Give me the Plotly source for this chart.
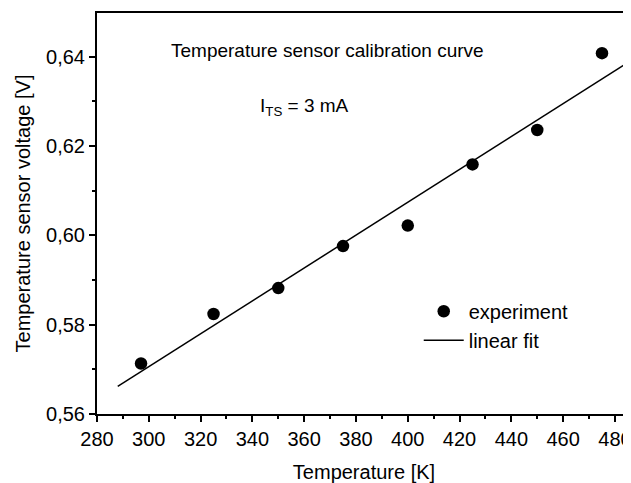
import plotly.graph_objects as go

temperature_K = [297, 325, 350, 375, 400, 425, 450, 475]
voltage_V = [0.5713, 0.5824, 0.5882, 0.5976, 0.6022, 0.6159, 0.6236, 0.6408]
fit_T = [288, 484.2]
fit_V = [0.5662, 0.6384]
x_ticks = [280, 300, 320, 340, 360, 380, 400, 420, 440, 460, 480]
y_ticks = [0.56, 0.58, 0.60, 0.62, 0.64]

FONT = "Liberation Sans, Arial, sans-serif"

fig = go.Figure()
fig.add_trace(go.Scatter(x=temperature_K, y=voltage_V, mode="markers",
                         marker=dict(color="black", size=12.5), name="experiment"))
fig.add_trace(go.Scatter(x=fit_T, y=fit_V, mode="lines",
                         line=dict(color="black", width=1.5), name="linear fit"))

fig.update_layout(
    width=631, height=475,
    margin=dict(l=89, r=8, t=3, b=68),
    paper_bgcolor="white", plot_bgcolor="white",
    separators=", ",
    font=dict(family=FONT, color="black", size=20),
    showlegend=True,
    legend=dict(x=0.6025, y=0.22, xanchor="left", yanchor="middle",
                bgcolor="rgba(0,0,0,0)", font=dict(size=20),
                tracegroupgap=0, itemwidth=40),
    annotations=[
        dict(text="Temperature sensor calibration curve", xref="paper", yref="paper",
             x=0.1344, y=0.906, xanchor="left", yanchor="middle", showarrow=False,
             font=dict(size=19)),
        dict(text="I<sub>TS</sub> = 3 mA", xref="paper", yref="paper",
             x=0.301, y=0.765, xanchor="left", yanchor="middle", showarrow=False,
             font=dict(size=19)),
    ],
)
fig.update_xaxes(range=[280, 486.2], tickvals=x_ticks, ticks="outside", ticklen=6,
                 tickwidth=1.5, tickcolor="black", showline=True, linewidth=2,
                 linecolor="black", mirror=True, showgrid=False, zeroline=False,
                 ticklabeloverflow="allow",
                 minor=dict(ticks="outside", ticklen=3, dtick=10, tick0=280,
                            tickcolor="black", tickwidth=1.5, showgrid=False),
                 title=dict(text="Temperature [K]", font=dict(size=20), standoff=16),
                 tickfont=dict(size=20))
fig.update_yaxes(range=[0.56, 0.6498], tickvals=y_ticks, tickformat=".2f",
                 ticks="outside", ticklen=6, tickwidth=1.5, tickcolor="black",
                 showline=True, linewidth=2, linecolor="black", showgrid=False,
                 zeroline=False,
                 minor=dict(ticks="outside", ticklen=3, dtick=0.01, tick0=0.56,
                            tickcolor="black", tickwidth=1.5, showgrid=False),
                 title=dict(text="Temperature sensor voltage [V]", font=dict(size=20),
                            standoff=10),
                 tickfont=dict(size=20))

fig.write_html("out.html")
